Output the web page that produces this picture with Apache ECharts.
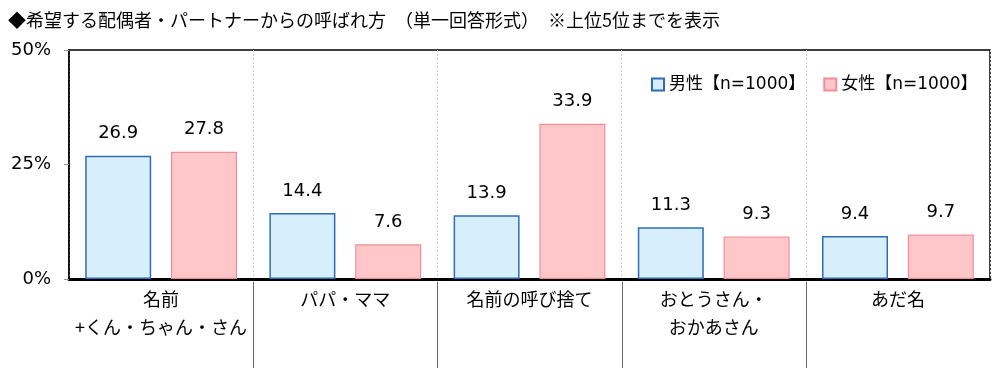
<!DOCTYPE html>
<html><head><meta charset="utf-8">
<script src="https://cdn.jsdelivr.net/npm/echarts@6/dist/echarts.min.js"></script>
<style>html,body{margin:0;padding:0;background:#fff}#c{width:1000px;height:368px}</style>
</head><body><div id="c"></div>
<script>
const titleText = '◆希望する配偶者・パートナーからの呼ばれ方　（単一回答形式）　※上位5位までを表示';
const categories = ['名前\n+くん・ちゃん・さん', 'パパ・ママ', '名前の呼び捨て', 'おとうさん・\nおかあさん', 'あだ名'];
const seriesNames = ['男性【n=1000】', '女性【n=1000】'];
const maleValues = [26.9, 14.4, 13.9, 11.3, 9.4];
const femaleValues = [27.8, 7.6, 33.9, 9.3, 9.7];
const yTicks = [0, 25, 50];
const separators = [1, 2, 3, 4];

const numFont = 'DejaVu Sans, Noto Sans CJK JP, sans-serif';
const jpFont = 'Noto Sans CJK JP, sans-serif';
const chart = echarts.init(document.getElementById('c'));
chart.setOption({
  animation: false,
  backgroundColor: '#fff',
  title: { text: titleText, left: 3, top: 6, textStyle: { fontFamily: jpFont, fontSize: 18, fontWeight: 'normal', color: '#000' } },
  legend: {
    data: seriesNames, left: 646, top: 71, itemWidth: 12, itemHeight: 12, itemGap: 18,
    icon: 'rect',
    textStyle: { fontFamily: numFont, fontSize: 17, color: '#000' }
  },
  grid: { left: 69, right: 10, top: 50, bottom: 89, show: true, borderColor: '#000', borderWidth: 1.5, containLabel: false },
  xAxis: {
    type: 'category', data: categories,
    axisLine: { lineStyle: { color: '#000', width: 3 } },
    axisTick: { show: false },
    splitLine: { show: true, interval: 0, lineStyle: { color: '#d0d0d0', type: [2, 2], width: 1 } },
    axisLabel: { interval: 0, fontFamily: jpFont, fontSize: 18, color: '#000', lineHeight: 28, margin: 6 }
  },
  yAxis: {
    type: 'value', min: yTicks[0], max: yTicks[yTicks.length - 1], interval: 25,
    axisLine: { show: true, lineStyle: { color: '#000', width: 1.5 } },
    axisTick: { show: true, length: 5, lineStyle: { color: '#999' } },
    splitLine: { show: false },
    axisLabel: { formatter: '{value}%', fontFamily: numFont, fontSize: 18, color: '#000', margin: 18 }
  },
  series: [
    {
      name: seriesNames[0], type: 'bar', data: maleValues, barWidth: 66, barGap: '30%',
      itemStyle: { color: '#d7eefc', borderColor: '#2e6db5', borderWidth: 1.5 },
      label: { show: true, position: 'top', distance: 13, formatter: p => p.value.toFixed(1), fontFamily: numFont, fontSize: 18, color: '#000' }
    },
    {
      name: seriesNames[1], type: 'bar', data: femaleValues, barWidth: 66,
      itemStyle: { color: '#ffc7c9', borderColor: '#ee8f97', borderWidth: 1.2 },
      label: { show: true, position: 'top', distance: 13, formatter: p => p.value.toFixed(1), fontFamily: numFont, fontSize: 18, color: '#000' }
    },
    {
      type: 'custom', silent: true, clip: false, z: 10,
      data: separators.map(s => [s, 0]),
      encode: { x: 0, y: 1 },
      renderItem: function (params, api) {
        const p = api.coord([api.value(0), 0]);
        const bw = api.size([1, 0])[0];
        const x = Math.round(p[0] - bw / 2) + 0.5;
        return { type: 'line', shape: { x1: x, y1: p[1] + 3, x2: x, y2: p[1] + 89 }, style: { stroke: '#666', lineWidth: 1 } };
      }
    }
  ]
});
</script></body></html>
